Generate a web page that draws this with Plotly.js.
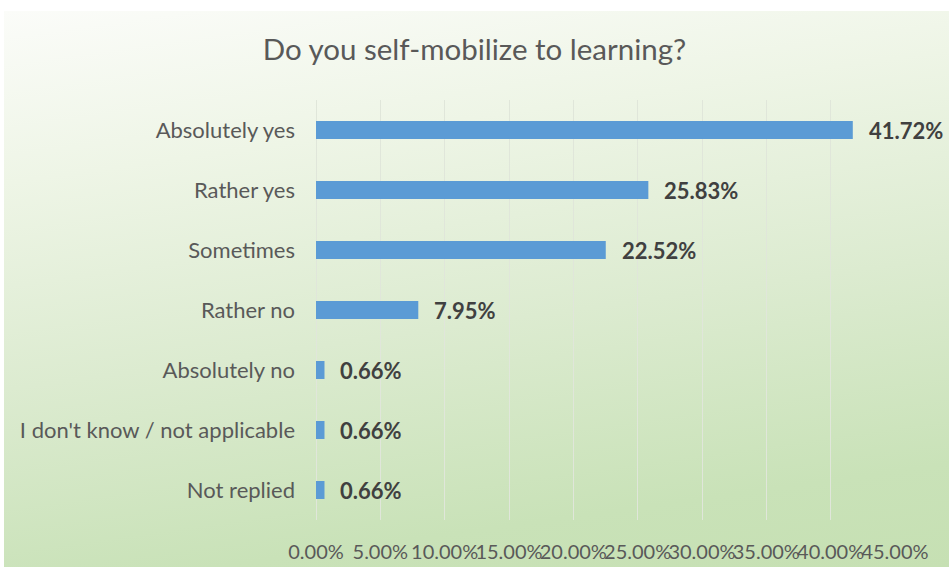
<!DOCTYPE html>
<html>
<head>
<meta charset="utf-8">
<script src="https://cdn.plot.ly/plotly-3.0.1.min.js"></script>
<style>
  html, body { margin: 0; padding: 0; background: #ffffff; }
  #wrap { position: relative; width: 949px; height: 567px; overflow: hidden; }
  #bg { position: absolute; left: 4px; top: 11px; right: 0; bottom: 0;
        background: linear-gradient(172deg, #fbfcf9 0%, #eef5e6 25%, #dcebd0 55%, #c9e2b8 85%, #c6e0b3 100%); }
  #chart { position: absolute; left: 0; top: 0; width: 949px; height: 567px; }
</style>
</head>
<body>
<div id="wrap">
  <div id="bg"></div>
  <div id="chart"></div>
</div>
<script>
const categories = ["Absolutely yes", "Rather yes", "Sometimes", "Rather no", "Absolutely no", "I don't know / not applicable", "Not replied"];
const shares = [0.4172, 0.2583, 0.2252, 0.0795, 0.0066, 0.0066, 0.0066];
const chartTitle = "Do you self-mobilize to learning?";

const font = "Lato, 'Open Sans', sans-serif";

const trace = {
  type: "bar",
  orientation: "h",
  y: categories,
  x: shares,
  marker: { color: "#5b9bd5" },
  hoverinfo: "none"
};

const annotations = categories.map((c, i) => ({
  x: shares[i], y: c, xref: "x", yref: "y",
  text: "<b>" + (shares[i] * 100).toFixed(2) + "%</b>",
  showarrow: false, xanchor: "left", xshift: 14,
  font: { family: font, size: 22, color: "#404040" }
}));

const layout = {
  width: 949, height: 567,
  paper_bgcolor: "rgba(0,0,0,0)",
  plot_bgcolor: "rgba(0,0,0,0)",
  margin: { l: 316, r: 54, t: 100, b: 47 },
  showlegend: false,
  bargap: 0.7,
  title: { text: chartTitle, x: 0.5, xanchor: "center", y: 0.913, yanchor: "middle",
           font: { family: font, size: 29.5, color: "#595959" } },
  xaxis: {
    range: [0, 0.45], dtick: 0.05, tickformat: ".2%", tickangle: 0,
    showgrid: true, gridcolor: "#e0e6da", gridwidth: 1,
    zeroline: true, zerolinecolor: "#e0e6da", zerolinewidth: 1,
    showline: false, ticks: "", ticklabelstandoff: 18,
    tickfont: { family: font, size: 20, color: "#595959" },
    fixedrange: true
  },
  yaxis: {
    autorange: "reversed", showgrid: false, zeroline: false, showline: false,
    ticks: "", ticklabelstandoff: 20,
    tickfont: { family: font, size: 22, color: "#595959" },
    fixedrange: true
  },
  annotations: annotations
};

Plotly.newPlot("chart", [trace], layout, { staticPlot: true, displayModeBar: false });
</script>
</body>
</html>
